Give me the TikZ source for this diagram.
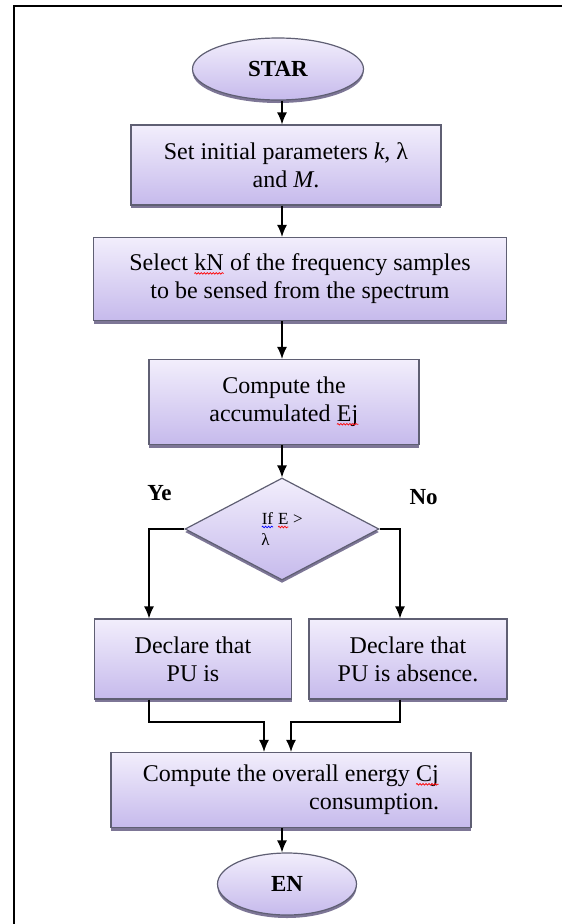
\documentclass[tikz,border=0pt]{standalone}
\usepackage{fontspec}
\setmainfont{Liberation Serif}
\usetikzlibrary{positioning, shapes.geometric, shadows, arrows.meta, decorations.pathmorphing}

\definecolor{boxtop}{RGB}{242,238,252}
\definecolor{boxbot}{RGB}{198,186,236}
\definecolor{boxline}{RGB}{95,95,115}
\definecolor{boxshadow}{RGB}{125,118,150}

% spell-check wave under a word
\newcommand{\spellmark}[2][red]{\tikz[baseline=(w.base)]{%
    \node [shape=rectangle, minimum width=0pt, minimum height=0pt, inner sep=0pt, outer sep=0pt, draw=none] (w) {#2};
    \draw [#1, line width=0.7pt, decorate, decoration={snake, amplitude=0.8pt, segment length=3pt}]
        ([yshift=-2.5pt]w.base west) -- ([yshift=-2.5pt]w.base east);}}

\begin{document}
\begin{tikzpicture}[
        x=1pt, y=1pt,
        node distance=100pt,
        font=\fontsize{24}{28}\selectfont,
        base/.style={
            draw=boxline,
            line width=1.2pt,
            top color=boxtop,
            bottom color=boxbot,
            drop shadow={shadow xshift=0pt, shadow yshift=-3pt, fill=boxshadow, opacity=1}
        },
        process/.style={base, rectangle, align=center, inner sep=4pt},
        terminal/.style={base, ellipse, font=\fontsize{23}{28}\selectfont\bfseries},
        decision/.style={base, diamond, inner sep=0pt, align=left, font=\fontsize{17}{21}\selectfont},
        branch/.style={font=\fontsize{23}{28}\selectfont\bfseries},
        arrow/.style={line width=1.4pt,-{Latex[length=12pt,width=10pt]}}
    ]

    \useasboundingbox (0,0) rectangle (562,-924);
    \draw [line width=2.4pt] (14,-924) -- (14,-6) -- (562,-6);

    % Main column
    \node (star) [terminal, minimum width=171pt, minimum height=62pt] at (278,-69) {STAR};
    \node (init) [process, minimum width=310pt, minimum height=80pt, below of=star, xshift=8pt, yshift=4pt] {Set initial parameters \textit{k}, λ\\ and \textit{M}.};
    \node (sel) [process, minimum width=413pt, minimum height=83pt, below of=init, xshift=14pt, yshift=-14pt] {Select \spellmark{kN} of the frequency samples\\ to be sensed from the spectrum};
    \node (acc) [process, minimum width=270pt, minimum height=85pt, below of=sel, xshift=-16pt, yshift=-23pt] {Compute the\\ accumulated \spellmark{Ej}};
    \node (test) [decision, minimum width=194pt, minimum height=102pt, below of=acc, xshift=-2pt, yshift=-27pt] {\spellmark[blue]{If} \spellmark{E} >\\ λ};

    % Branches
    \node (pres) [process, minimum width=197pt, minimum height=80pt, below of=test, xshift=-89pt, yshift=-30pt] {Declare that\\ PU is};
    \node (abs) [process, minimum width=198pt, minimum height=80pt, right of=pres, xshift=115pt] {Declare that\\ PU is absence.};
    \node (ye) [branch] at ([xshift=-25pt, yshift=36pt]test.west) {Ye};
    \node (no) [branch] at ([xshift=44pt, yshift=32pt]test.east) {No};

    % Bottom
    \node (tot) [process, minimum width=360pt, minimum height=75pt, align=right, below of=pres, xshift=98pt, yshift=-31pt] {Compute the overall energy \spellmark{Cj}\\ consumption.};
    \node (fin) [terminal, minimum width=139pt, minimum height=62pt, below of=tot, xshift=-4pt, yshift=6pt] {EN};

    \coordinate (axis) at (282,0);
    \coordinate (lft) at (149,0);
    \coordinate (rgt) at (400,0);
    \coordinate (joinL) at (264,-722);
    \coordinate (joinR) at (291,-722);

    % Arrows
    \draw [arrow] (star.south -| axis) -- (init.north -| axis);
    \draw [arrow] (init.south -| axis) -- (sel.north -| axis);
    \draw [arrow] (sel.south -| axis) -- (acc.north -| axis);
    \draw [arrow] (acc.south -| axis) -- (test.north);
    \draw [arrow] (test.west) -| (pres.north -| lft);
    \draw [arrow] (test.east) -| (abs.north -| rgt);
    \draw [arrow] (pres.south -| lft) |- (joinL) -- (tot.north -| joinL);
    \draw [arrow] (abs.south -| rgt) |- (joinR) -- (tot.north -| joinR);
    \draw [arrow] (tot.south -| axis) -- (fin.north -| axis);

\end{tikzpicture}
\end{document}
